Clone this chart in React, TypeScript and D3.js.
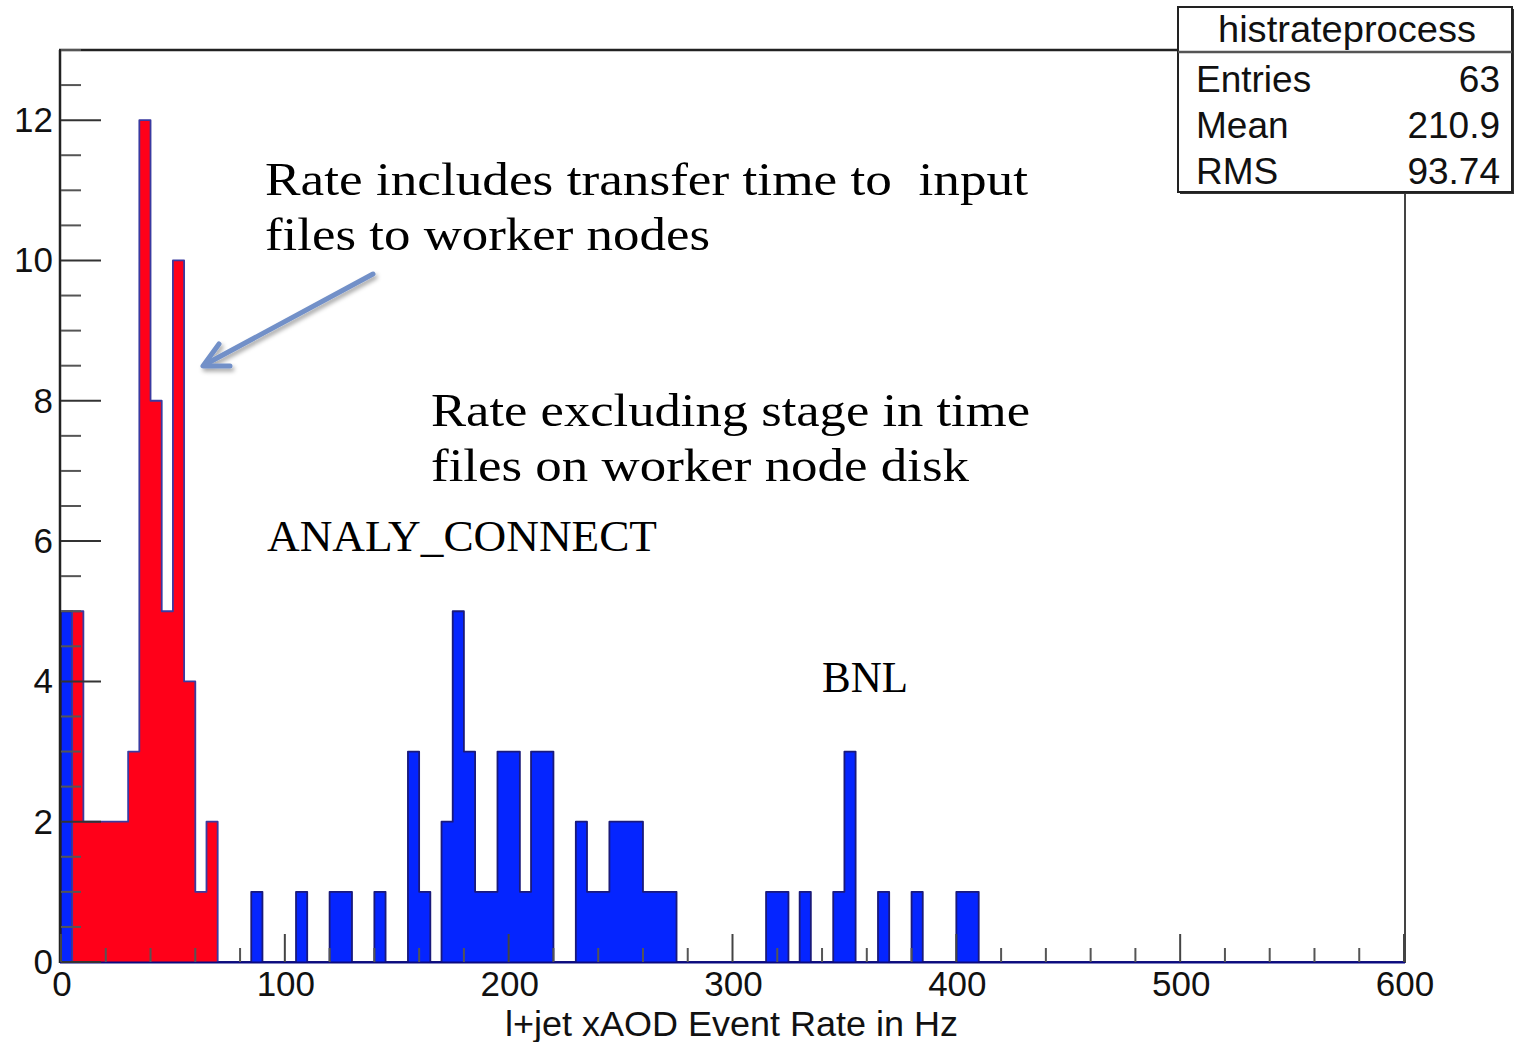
import React from "react";
import * as d3 from "d3";

const W = 1514;
const H = 1042;

const binWidth = 5;
const xDomain: [number, number] = [0, 600];
const yDomain: [number, number] = [0, 13];

const blueBinStarts = [0, 85, 105, 120, 125, 140, 155, 160, 170, 175, 180, 185, 190, 195, 200, 205, 210, 215, 230, 235, 240, 245, 250, 255, 260, 265, 270, 315, 320, 330, 345, 350, 365, 380, 400, 405];
const blueBinCounts = [5, 1, 1, 1, 1, 1, 3, 1, 2, 5, 3, 1, 1, 3, 3, 1, 3, 3, 2, 1, 1, 2, 2, 2, 1, 1, 1, 1, 1, 1, 1, 3, 1, 1, 1, 1];

const redBinStarts = [5, 10, 15, 20, 25, 30, 35, 40, 45, 50, 55, 60, 65];
const redBinCounts = [5, 2, 2, 2, 2, 3, 12, 8, 5, 10, 4, 1, 2];
const redRangeEnd = 70;

const xMajorTicks = [0, 100, 200, 300, 400, 500, 600];
const yMajorTicks = [0, 2, 4, 6, 8, 10, 12];

const statsTitle = "histrateprocess";
const statsNames = ["Entries", "Mean", "RMS"];
const statsValues = ["63", "210.9", "93.74"];

const xTitle = "l+jet xAOD Event Rate in Hz";

const x = d3.scaleLinear().domain(xDomain).range([61, 1404]);
const y = d3.scaleLinear().domain(yDomain).range([962, 50]);

function densify(starts: number[], counts: number[], lo: number, hi: number) {
  const n = Math.round((hi - lo) / binWidth);
  const arr: number[] = new Array(n).fill(0);
  starts.forEach((s, i) => {
    arr[Math.round((s - lo) / binWidth)] = counts[i];
  });
  return arr;
}

function stepPoints(vals: number[], lo: number): [number, number][] {
  const pts: [number, number][] = [[lo, 0]];
  vals.forEach((c, i) => {
    const a = lo + i * binWidth;
    pts.push([a, c]);
    pts.push([a + binWidth, c]);
  });
  pts.push([lo + vals.length * binWidth, 0]);
  return pts;
}

const line = d3
  .line<[number, number]>()
  .x((d) => x(d[0]))
  .y((d) => y(d[1]));

export default function App() {
  const blueVals = densify(blueBinStarts, blueBinCounts, xDomain[0], xDomain[1]);
  const redVals = densify(redBinStarts, redBinCounts, 0, redRangeEnd);
  const bluePath = line(stepPoints(blueVals, 0)) || "";
  const redPath = line(stepPoints(redVals, 0)) || "";

  const xMinor = d3.range(0, 601, 20).filter((v) => v % 100 !== 0);
  const yMinor = d3.range(0, 13.01, 0.5).filter((v) => v % 2 !== 0);

  const sans = "'Liberation Sans', Arial, Helvetica, sans-serif";
  const serif = "'Liberation Serif', 'Times New Roman', serif";

  const statsLeft = 1178;
  const statsRight = 1512;
  const statsTop = 7;
  const statsBottom = 192;

  return (
    <svg width={W} height={H} style={{ position: "absolute", left: 0, top: 0, display: "block", background: "#fff" }}>
      <defs>
        <filter id="shadow" x="-20%" y="-20%" width="140%" height="140%">
          <feDropShadow dx="2" dy="3" stdDeviation="2" floodColor="#000" floodOpacity="0.35" />
        </filter>
      </defs>
      <rect x={0} y={0} width={W} height={H} fill="#fff" />

      {/* histograms */}
      <path d={bluePath} fill="#0525ff" stroke="#1a1a7a" strokeWidth={1.8} strokeLinejoin="round" />
      <path d={redPath} fill="#ff0019" stroke="#3a3aa0" strokeWidth={1.8} strokeLinejoin="round" />

      {/* frame */}
      <line x1={x(0) - 1} x2={x(0) - 1} y1={y(13)} y2={y(0) + 1} stroke="#222" strokeWidth={2.5} />
      <line x1={x(0) - 2} x2={statsLeft} y1={y(13)} y2={y(13)} stroke="#222" strokeWidth={2.5} />
      <line x1={x(600) + 1} x2={x(600) + 1} y1={statsBottom} y2={y(0) + 1} stroke="#444" strokeWidth={2} />
      <line x1={x(0) - 1} x2={x(600) + 1} y1={y(0) + 0.5} y2={y(0) + 0.5} stroke="#0a0a80" strokeWidth={2} />

      {/* y ticks */}
      {yMajorTicks.map((v) => (
        <line key={"ym" + v} x1={x(0)} x2={x(0) + 40} y1={y(v)} y2={y(v)} stroke="#333" strokeWidth={2} />
      ))}
      {yMinor.map((v) => (
        <line key={"yn" + v} x1={x(0)} x2={x(0) + 20} y1={y(v)} y2={y(v)} stroke="#555" strokeWidth={2} />
      ))}
      {yMajorTicks.map((v) => (
        <text key={"yl" + v} x={53} y={y(v) + 12} textAnchor="end" fontFamily={sans} fontSize={35} fill="#111">
          {v}
        </text>
      ))}

      {/* x ticks */}
      {xMajorTicks.map((v) => (
        <line key={"xm" + v} x1={x(v)} x2={x(v)} y1={y(0)} y2={y(0) - 28} stroke="#444" strokeWidth={2} />
      ))}
      {xMinor.map((v) => (
        <line key={"xn" + v} x1={x(v)} x2={x(v)} y1={y(0)} y2={y(0) - 14} stroke="#555" strokeWidth={2} />
      ))}
      {xMajorTicks.map((v) => (
        <text key={"xl" + v} x={x(v) + 1} y={996} textAnchor="middle" fontFamily={sans} fontSize={35} fill="#111">
          {v}
        </text>
      ))}
      <text x={505} y={1036} fontFamily={sans} fontSize={35} fill="#111" textLength={453} lengthAdjust="spacingAndGlyphs">
        {xTitle}
      </text>

      {/* stats box */}
      <rect x={statsLeft + 2} y={statsTop + 2} width={statsRight - statsLeft} height={statsBottom - statsTop} fill="#333" />
      <rect x={statsLeft} y={statsTop} width={statsRight - statsLeft} height={statsBottom - statsTop} fill="#fff" stroke="#222" strokeWidth={2} />
      <line x1={statsLeft} x2={statsRight} y1={52} y2={52} stroke="#555" strokeWidth={2.5} />
      <text x={1347} y={42} textAnchor="middle" fontFamily={sans} fontSize={37} fill="#111" textLength={258} lengthAdjust="spacingAndGlyphs">
        {statsTitle}
      </text>
      {statsNames.map((n, i) => (
        <text key={n} x={1196} y={92 + i * 46} fontFamily={sans} fontSize={37} fill="#111">
          {n}
        </text>
      ))}
      {statsValues.map((v, i) => (
        <text key={v} x={1500} y={92 + i * 46} textAnchor="end" fontFamily={sans} fontSize={37} fill="#111">
          {v}
        </text>
      ))}

      {/* annotations */}
      <g fontFamily={serif} fill="#000">
        <text x={265} y={195} fontSize={47} textLength={763} lengthAdjust="spacingAndGlyphs" xmlSpace="preserve">
          {"Rate includes transfer time to \u00a0input"}
        </text>
        <text x={265} y={250} fontSize={47} textLength={445} lengthAdjust="spacingAndGlyphs">
          files to worker nodes
        </text>
        <text x={431} y={426} fontSize={47} textLength={599} lengthAdjust="spacingAndGlyphs">
          Rate excluding stage in time
        </text>
        <text x={431} y={481} fontSize={47} textLength={538} lengthAdjust="spacingAndGlyphs">
          files on worker node disk
        </text>
        <text x={267} y={551} fontSize={44} textLength={390} lengthAdjust="spacingAndGlyphs">
          ANALY_CONNECT
        </text>
        <text x={822} y={692} fontSize={44} textLength={86} lengthAdjust="spacingAndGlyphs">
          BNL
        </text>
      </g>

      {/* arrow */}
      <g filter="url(#shadow)" stroke="#7290c8" strokeWidth={5} fill="none" strokeLinecap="round" strokeLinejoin="round">
        <line x1={373} y1={274} x2={206} y2={364} />
        <path d="M 219 344 L 203 366 L 230 366" />
      </g>
    </svg>
  );
}
